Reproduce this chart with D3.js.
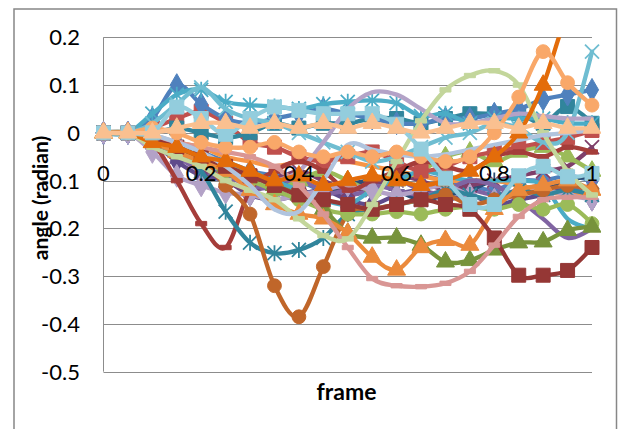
<!DOCTYPE html>
<html><head><meta charset="utf-8">
<script src="https://cdn.jsdelivr.net/npm/d3@7"></script>
<style>html,body{margin:0;padding:0;background:#fff;}svg{display:block;}</style>
</head><body>
<svg id="chart" width="624" height="429"></svg>
<script>
// ---------- data ----------
const frames = [0,0.05,0.1,0.15,0.2,0.25,0.3,0.35,0.4,0.45,0.5,0.55,0.6,0.65,0.7,0.75,0.8,0.85,0.9,0.95,1];
const xTicks = [0,0.2,0.4,0.6,0.8,1];
const yTicks = [0.2,0.1,0,-0.1,-0.2,-0.3,-0.4,-0.5];
const xTickLabels = ["0","0.2","0.4","0.6","0.8","1"];
const yTickLabels = ["0.2","0.1","0","-0.1","-0.2","-0.3","-0.4","-0.5"];

const sBlueMid     = [0,0,-0.01,-0.02,-0.04,-0.06,-0.08,-0.09,-0.1,-0.12,-0.11,-0.12,-0.1,-0.09,-0.1,-0.11,-0.12,-0.1,-0.1,-0.09,-0.1];
const sPurpleX     = [0,0,-0.02,-0.05,-0.08,-0.1,-0.12,-0.11,-0.1,-0.12,-0.13,-0.12,-0.1,-0.12,-0.13,-0.12,-0.13,-0.12,-0.11,-0.12,-0.11];
const sNavyPlus    = [0,0,-0.01,-0.03,-0.05,-0.07,-0.09,-0.1,-0.12,-0.13,-0.11,-0.1,-0.12,-0.14,-0.13,-0.12,-0.1,-0.11,-0.12,-0.1,-0.09];
const sDarkPurple  = [0,0,-0.02,-0.06,-0.09,-0.1,-0.13,-0.14,-0.13,-0.12,-0.14,-0.15,-0.13,-0.12,-0.14,-0.13,-0.15,-0.14,-0.13,-0.12,-0.14];
const sPlumX       = [0,0,-0.01,-0.04,-0.07,-0.1,-0.12,-0.1,-0.08,-0.1,-0.12,-0.11,-0.09,-0.1,-0.12,-0.11,-0.1,-0.09,-0.08,-0.07,-0.03];
const sGreenTri    = [0,0,-0.02,-0.04,-0.06,-0.08,-0.1,-0.12,-0.1,-0.08,-0.1,-0.12,-0.1,-0.08,-0.05,-0.04,-0.06,-0.04,-0.03,-0.05,-0.08];
const sOrangeLine  = [0,0,-0.01,-0.02,-0.03,-0.05,-0.06,-0.07,-0.06,-0.05,-0.06,-0.07,-0.08,-0.09,-0.1,-0.1,-0.1,-0.11,-0.12,-0.13,-0.13];
const sAquaLow     = [0,0,-0.01,-0.03,-0.05,-0.06,-0.08,-0.1,-0.12,-0.14,-0.15,-0.12,-0.1,-0.08,-0.09,-0.1,-0.1,-0.1,-0.11,-0.18,-0.2];
const sPurpleLow   = [0,0,-0.02,-0.04,-0.07,-0.09,-0.11,-0.12,-0.14,-0.13,-0.12,-0.11,-0.12,-0.13,-0.12,-0.1,-0.11,-0.14,-0.18,-0.22,-0.2];
const sRedSquare   = [0,0,0.01,0.03,0.045,0.02,-0.02,-0.03,-0.05,-0.06,-0.05,-0.04,-0.06,-0.08,-0.07,-0.05,-0.04,-0.03,-0.02,-0.01,0.005];
const sTealSquare  = [0,0,0,0.01,0,-0.01,0,0.02,0.01,0.02,0.02,0.03,0.03,0.02,0.03,0.04,0.04,0.04,0.02,0.055,0.02];
const sBlueDiamond = [0,0,0.03,0.1,0.06,0.03,0.02,0.03,0.04,0.05,0.04,0.03,0.02,0.02,0.03,0.03,0.04,0.05,0.07,0.08,0.09];
const sAquaStar    = [0,0,0.04,0.08,0.09,0.065,0.058,0.055,0.05,0.06,0.065,0.068,0.062,0.035,0.04,0.02,0.03,0.03,0.03,0.02,0.02];
const sAquaX       = [0,0,0.02,0.06,0.095,0.05,0.03,0.02,0,-0.02,-0.04,-0.06,-0.05,-0.03,-0.01,0,0.02,0.01,-0.02,0,0.17];
const sLavBump     = [0,0,-0.01,-0.03,-0.05,-0.07,-0.09,-0.1,-0.08,-0.02,0.05,0.085,0.08,0.05,0.02,0.02,0.03,0.04,0.035,0.03,0.03];
const sLavDiamond  = [0,0,-0.04,-0.09,-0.11,-0.125,-0.13,-0.14,-0.13,-0.12,-0.11,-0.12,-0.13,-0.12,-0.11,-0.13,-0.14,-0.13,-0.12,-0.13,-0.14];
const sRedDash     = [0,0,-0.02,-0.1,-0.19,-0.24,-0.12,-0.08,-0.06,-0.08,-0.12,-0.1,-0.08,-0.06,-0.07,-0.08,-0.05,-0.04,-0.05,-0.03,-0.04];
const sTealDeep    = [0,0,-0.01,-0.03,-0.08,-0.165,-0.23,-0.252,-0.245,-0.22,-0.17,-0.16,-0.15,-0.14,-0.12,-0.13,-0.14,-0.12,-0.13,-0.12,-0.13];
const sBrownCircle = [0,0,-0.02,-0.04,-0.06,-0.11,-0.17,-0.32,-0.385,-0.28,-0.17,-0.16,-0.15,-0.14,-0.13,-0.15,-0.14,-0.13,-0.12,-0.11,-0.12];
const sGreenCircle = [0,0,-0.02,-0.04,-0.06,-0.08,-0.1,-0.12,-0.14,-0.16,-0.17,-0.17,-0.165,-0.17,-0.16,-0.155,-0.16,-0.15,-0.16,-0.15,-0.19];
const sOliveTri    = [0,0,-0.01,-0.03,-0.05,-0.07,-0.09,-0.11,-0.13,-0.16,-0.21,-0.22,-0.22,-0.235,-0.27,-0.267,-0.245,-0.23,-0.228,-0.204,-0.197];
const sOrangeTri   = [0,0,-0.02,-0.04,-0.06,-0.08,-0.12,-0.15,-0.17,-0.18,-0.21,-0.26,-0.287,-0.24,-0.225,-0.235,-0.16,-0.12,-0.11,-0.1,-0.12];
const sMaroonSq    = [0,0,-0.01,-0.03,-0.05,-0.07,-0.09,-0.11,-0.13,-0.14,-0.15,-0.16,-0.15,-0.14,-0.15,-0.16,-0.22,-0.298,-0.298,-0.288,-0.24];
const sPink        = [0,0,-0.005,-0.02,-0.03,-0.04,-0.05,-0.07,-0.11,-0.17,-0.24,-0.305,-0.32,-0.322,-0.315,-0.29,-0.235,-0.175,-0.14,-0.135,-0.135];
const sLightGreen  = [0,0,-0.03,-0.05,-0.07,-0.1,-0.12,-0.14,-0.18,-0.215,-0.222,-0.15,-0.06,0.025,0.09,0.12,0.13,0.1,0.0,-0.08,-0.13];
const sSteel       = [0,0,-0.005,-0.02,-0.04,-0.07,-0.11,-0.16,-0.165,-0.1,-0.025,-0.035,-0.045,-0.05,-0.045,-0.035,-0.025,-0.015,-0.005,0,0.005];
const sDarkOrange  = [0,0,-0.02,-0.03,-0.05,-0.06,-0.08,-0.1,-0.09,-0.11,-0.1,-0.09,-0.1,-0.11,-0.1,-0.08,-0.05,0.0,0.1,0.25,0.32];
const sPeachCircle = [0,0,0.01,0,-0.02,-0.03,-0.03,-0.02,-0.04,-0.05,-0.04,-0.05,-0.04,-0.05,-0.06,-0.05,0.0,0.075,0.17,0.105,0.058];
const sLightBlueSq = [0,0,0,0.054,0.03,-0.003,0.03,0.054,0.047,0.04,0.04,0.04,0.018,-0.034,-0.095,-0.15,-0.15,-0.09,-0.07,-0.092,-0.085];
const sPeachTri    = [0,0,0,0.01,0.02,0.02,0.01,0.02,0.01,0.02,0.01,0.02,0.01,0,0.01,0.02,0.02,0.01,0.02,0.01,0.01];

const seriesList = [sBlueMid,sPurpleX,sNavyPlus,sDarkPurple,sPlumX,sGreenTri,sOrangeLine,sAquaLow,sPurpleLow,
  sRedSquare,sTealSquare,sBlueDiamond,sAquaStar,sAquaX,sLavBump,sLavDiamond,sRedDash,sTealDeep,sBrownCircle,
  sGreenCircle,sOliveTri,sOrangeTri,sMaroonSq,sPink,sLightGreen,sSteel,sDarkOrange,sPeachCircle,sLightBlueSq,sPeachTri];
// ---------- styles ----------
const seriesColors = ["#4F81BD","#8064A2","#2C4D75","#5F4B8B","#7F3F6A","#9BBB59","#F79646","#4BACC6","#8064A2",
  "#C0504D","#31859C","#4F81BD","#4BACC6","#6FBDD1","#B3A2C7","#B3A2C7","#A53D3A","#31859C","#C0662A",
  "#9BBB59","#77933C","#EB8A3C","#953735","#D99694","#C3D69B","#B0C4DE","#E36C0A","#F9A869","#93CDDD","#FAC090"];
const seriesMarkers = ["diamond","x","plus","diamond","x","triangle","none","none","none",
  "square","square","diamond","star","x","none","diamond","dash","star","circle",
  "circle","triangle","triangle","square","dash","dash","none","triangle","circle","square","triangle"];

// ---------- layout ----------
const svg = d3.select("#chart");
const plotL = 103.5, plotR = 592, plotT = 37.3, plotB = 371.7;
const x = d3.scaleLinear().domain([0,1]).range([plotL,plotR]);
const y = d3.scaleLinear().domain([0.2,-0.5]).range([plotT,plotB]);
const FONT = "Lato, 'Open Sans', sans-serif";

svg.append("rect").attr("x",14).attr("y",9).attr("width",602.5).attr("height",440)
  .attr("fill","#fff").attr("stroke","#878787").attr("stroke-width",1.5);

// gridlines
svg.append("g").selectAll("line").data(yTicks).join("line")
  .attr("x1",plotL).attr("x2",plotR).attr("y1",d=>Math.round(y(d))+0.5).attr("y2",d=>Math.round(y(d))+0.5)
  .attr("stroke","#8c8c8c").attr("stroke-width",1);
svg.append("line").attr("x1",plotL).attr("x2",plotL).attr("y1",plotT).attr("y2",plotB)
  .attr("stroke","#8c8c8c").attr("stroke-width",1);

// clip
svg.append("clipPath").attr("id","plotclip").append("rect")
  .attr("x",plotL-9).attr("y",plotT).attr("width",plotR-plotL+18).attr("height",plotB-plotT);

const plot = svg.append("g").attr("clip-path","url(#plotclip)");
const line = d3.line().x((d,i)=>x(frames[i])).y(d=>y(d)).curve(d3.curveCardinal.tension(0));

function markerPath(type){
  switch(type){
    case "diamond": return d3.symbol(d3.symbolDiamond,150)();
    case "triangle": return d3.symbol(d3.symbolTriangle,140)();
    case "square": return "M-7,-7H7V7H-7Z";
    case "circle": return d3.symbol(d3.symbolCircle,150)();
    case "dash": return "M-5.5,-2.2H5.5V2.2H-5.5Z";
    default: return null;
  }
}
seriesList.forEach((vals,si)=>{
  const col = seriesColors[si], mk = seriesMarkers[si];
  const g = plot.append("g");
  g.append("path").attr("d",line(vals)).attr("fill","none").attr("stroke",col)
    .attr("stroke-width",4.3).attr("stroke-linejoin","round").attr("stroke-linecap","round");
  if (mk==="none") return;
  const pts = g.selectAll("g.m").data(vals).join("g")
    .attr("transform",(d,i)=>`translate(${x(frames[i])},${y(d)})`);
  if (mk==="x" || mk==="star" || mk==="plus"){
    const s=7;
    let p = "";
    if (mk!=="plus") p += `M${-s},${-s}L${s},${s}M${-s},${s}L${s},${-s}`;
    if (mk!=="x") p += `M0,${-s-1}L0,${s+1}`;
    if (mk==="plus") p += `M${-s-1},0L${s+1},0`;
    pts.append("path").attr("d",p).attr("stroke",col).attr("stroke-width",1.8).attr("fill","none");
  } else {
    pts.append("path").attr("d",markerPath(mk)).attr("fill",col).attr("stroke",col).attr("stroke-width",1);
  }
});

// tick labels
svg.append("g").selectAll("text").data(yTicks).join("text")
  .attr("x",80).attr("y",d=>y(d)).attr("dy","0.36em").attr("text-anchor","end")
  .attr("font-family",FONT).attr("font-size",22).attr("fill","#000")
  .text((d,i)=>yTickLabels[i]);
svg.append("g").selectAll("text").data(xTicks).join("text")
  .attr("x",d=>x(d)).attr("y",173).attr("dy","0.36em").attr("text-anchor","middle")
  .attr("font-family",FONT).attr("font-size",22).attr("fill","#000")
  .text((d,i)=>xTickLabels[i]);

// titles
svg.append("text").attr("x",346.5).attr("y",392).attr("dy","0.36em").attr("text-anchor","middle")
  .attr("font-family",FONT).attr("font-size",23).attr("font-weight","bold").text("frame");
svg.append("text").attr("transform","translate(40,198) rotate(-90)").attr("dy","0.36em")
  .attr("text-anchor","middle").attr("font-family",FONT).attr("font-size",21).attr("font-weight","bold")
  .text("angle (radian)");
</script>
</body></html>
